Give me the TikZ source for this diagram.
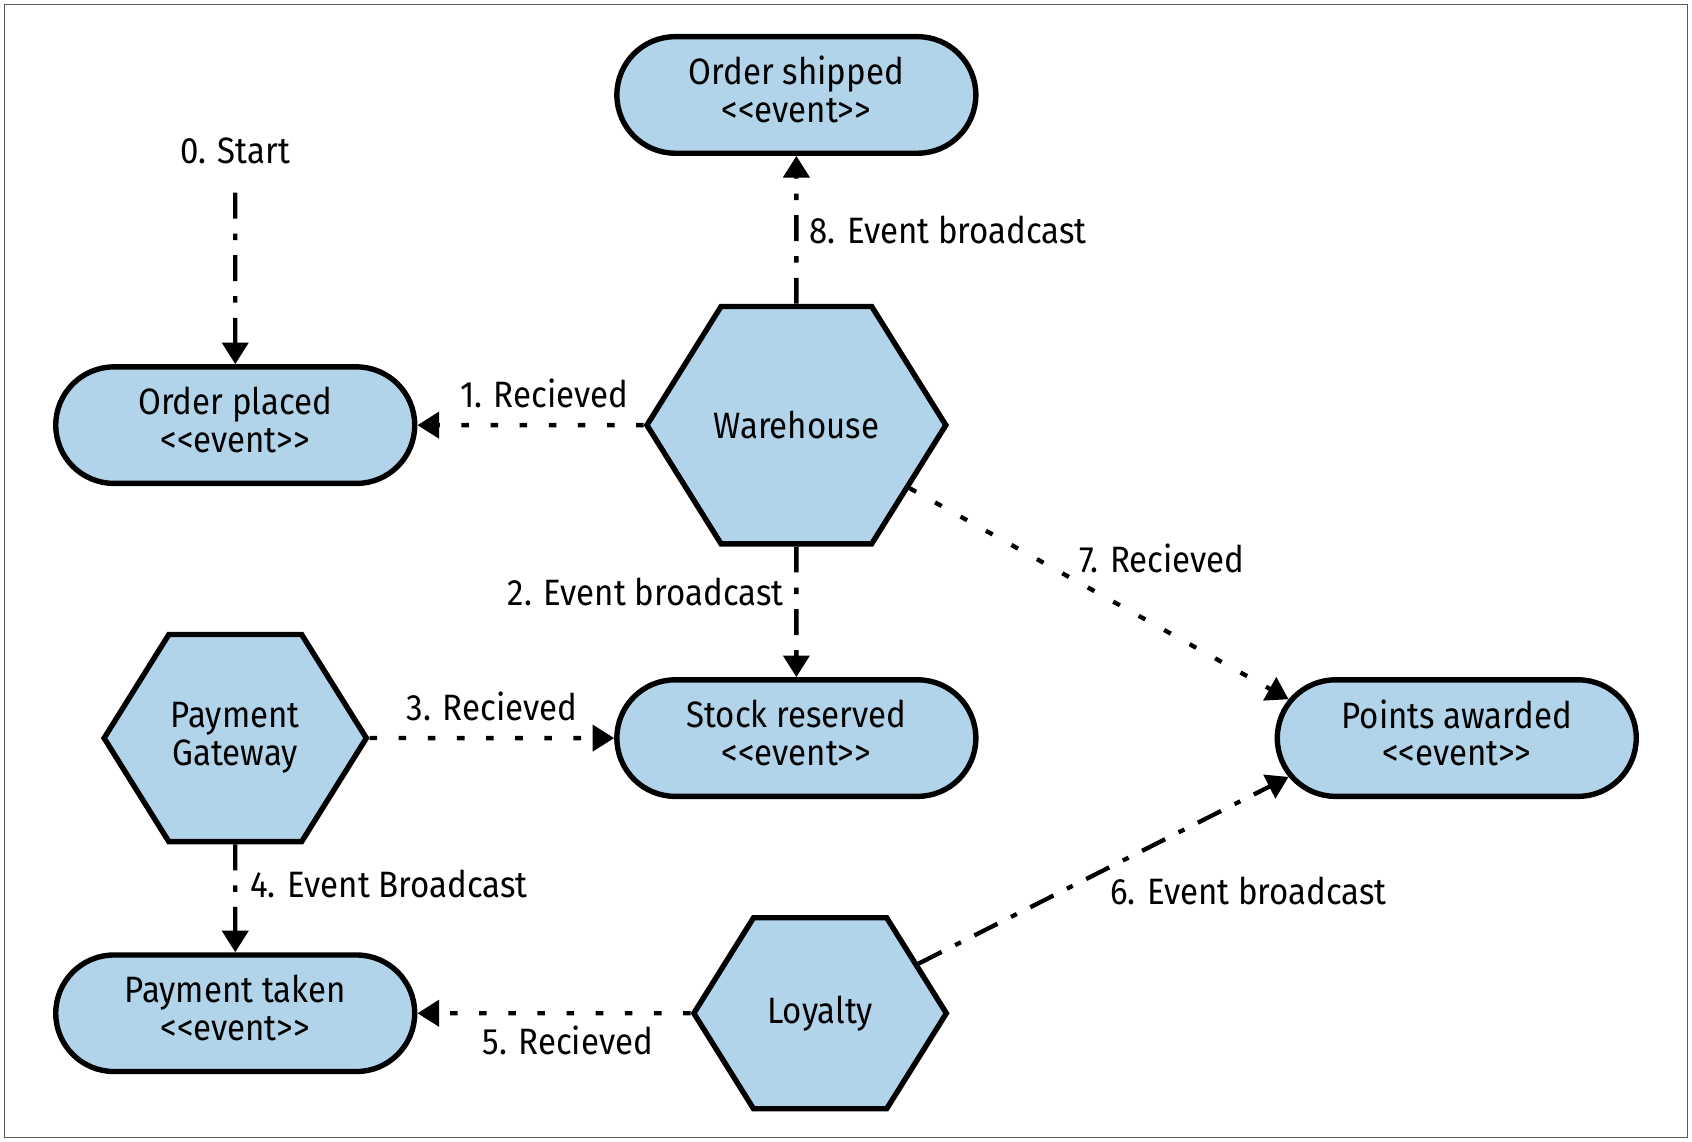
\documentclass[tikz,border=0pt]{standalone}
\usepackage{fontspec}
\setmainfont{Fira Sans}[FakeStretch=0.9]
\usetikzlibrary{shapes.misc,shapes.symbols,arrows.meta}
\definecolor{evblue}{HTML}{B2D4EA}
\definecolor{framegray}{HTML}{5A5A5A}
\newcommand\evt{<\kern0pt<event>\kern0pt>}

\begin{document}
\begin{tikzpicture}[x=0.5pt, y=-0.5pt, font=\fontsize{17}{17.5}\selectfont,
    event/.style={rounded rectangle, draw, fill=evblue, line width=2.5pt,
      minimum width=173pt, minimum height=54pt, text depth=5pt, align=center},
    service/.style={signal, signal to=east and west, signal pointer angle=116,
      draw, fill=evblue, line width=2.5pt, align=center, inner sep=0pt},
    bcast/.style={->, line width=2pt, dash pattern=on 12pt off 7pt on 3pt off 7pt},
    recv/.style={->, line width=2pt, dash pattern=on 3.5pt off 10pt},
    lbl/.style={inner sep=2pt},
    >={Triangle[length=10pt,width=12pt]}]
    \useasboundingbox (0,0) rectangle (1568,1058);
    \draw[framegray, line width=0.7pt] (4,4) rectangle (1564,1054);

    \node[event] (os) at (738,88) {Order shipped\\\evt};
    \node[event] (op) at (218,394) {Order placed\\\evt};
    \node[event] (sr) at (738,684) {Stock reserved\\\evt};
    \node[event] (pt) at (218,939) {Payment taken\\\evt};
    \node[event] (pa) at (1350,684) {Points awarded\\\evt};

    \node[service, inner xsep=-3.8pt, minimum width=138.5pt, minimum height=110pt] (wh) at (738,394) {Warehouse};
    \node[service, minimum width=121.5pt, minimum height=96pt] (pg) at (218,684) {Payment\\Gateway};
    \node[service, minimum width=117pt, minimum height=88.5pt] (ly) at (760,939) {Loyalty};

    \node[lbl] (st) at (218,140) {0. Start};

    \draw[bcast, shorten <=11pt] (st) -- (op);
    \draw[recv] (wh) -- node[lbl, pos=0.44, above=5pt] {1. Recieved} (op);
    \draw[bcast] (wh) -- node[lbl, pos=0.35, left=3pt] {2. Event broadcast} (sr);
    \draw[recv] (pg) -- node[lbl, midway, above=5pt] {3. Recieved} (sr);
    \draw[bcast] (pg) -- node[lbl, pos=0.37, right=4pt] {4. Event Broadcast} (pt);
    \draw[recv] (ly) -- node[lbl, pos=0.45, below=3pt] {5. Recieved} (pt);
    \draw[bcast] (ly) -- node[lbl, pos=0.5, anchor=north west] {6. Event broadcast} (pa.193);
    \draw[recv] (wh) -- node[lbl, pos=0.43, anchor=south west] {7. Recieved} (pa.167);
    \draw[bcast] (wh) -- node[lbl, midway, right=3pt] {8. Event broadcast} (os);
\end{tikzpicture}
\end{document}
